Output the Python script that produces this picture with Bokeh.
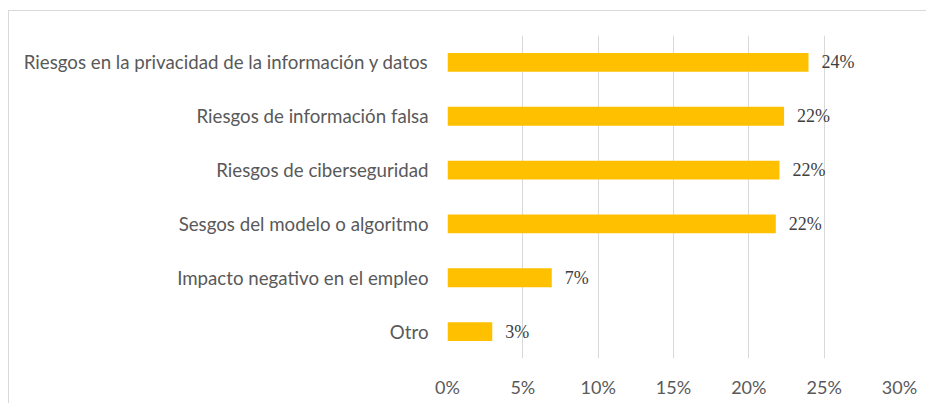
from bokeh.plotting import figure
from bokeh.models import ColumnDataSource, FixedTicker, Range1d, LabelSet
from bokeh.embed import file_html
from bokeh.resources import INLINE

categories = [
    "Riesgos en la privacidad de la información y datos",
    "Riesgos de información falsa",
    "Riesgos de ciberseguridad",
    "Sesgos del modelo o algoritmo",
    "Impacto negativo en el empleo",
    "Otro",
]
values = [23.96, 22.34, 22.03, 21.79, 6.92, 2.97]
value_labels = ["24%", "22%", "22%", "22%", "7%", "3%"]
x_ticks = [0, 5, 10, 15, 20, 25, 30]
x_tick_labels = ["0%", "5%", "10%", "15%", "20%", "25%", "30%"]

FONT = "Lato"
cats_rev = list(reversed(categories))

src = ColumnDataSource(dict(cat=categories, val=values, lab=value_labels))

p = figure(
    width=918, height=393,
    y_range=cats_rev, x_range=Range1d(0, 30),
    output_backend="svg", toolbar_location=None,
    min_border_left=438, min_border_right=28,
    min_border_top=24, min_border_bottom=46,
)
p.styles = {"border-top": "1px solid #D9D9D9", "border-left": "1px solid #D9D9D9",
            "margin-top": "10px", "margin-left": "8px"}
p.outline_line_color = None
p.background_fill_color = "white"
p.border_fill_color = "white"

p.hbar(y="cat", right="val", left=0, height=0.35, source=src,
       fill_color="#FFC000", line_color=None)

labels = LabelSet(x="val", y="cat", text="lab", source=src, x_offset=13,
                  text_baseline="middle", text_font=FONT, text_font_size="18px",
                  text_color="#404040")
p.add_layout(labels)

p.xaxis.ticker = FixedTicker(ticks=x_ticks)
p.xaxis.major_label_overrides = {t: l for t, l in zip(x_ticks, x_tick_labels)}
p.xaxis.axis_line_color = None
p.xaxis.major_tick_line_color = None
p.xaxis.minor_tick_line_color = None
p.xaxis.major_tick_out = 0
p.xaxis.major_label_standoff = 17
p.xaxis.major_label_text_font = FONT
p.xaxis.major_label_text_font_size = "18px"
p.xaxis.major_label_text_color = "#595959"

p.yaxis.axis_line_color = None
p.yaxis.major_tick_line_color = None
p.yaxis.minor_tick_line_color = None
p.yaxis.major_tick_out = 0
p.yaxis.major_label_standoff = 19
p.yaxis.major_label_text_font = FONT
p.yaxis.major_label_text_font_size = "18.7px"
p.yaxis.major_label_text_color = "#595959"

p.xgrid.grid_line_color = "#D9D9D9"
p.xgrid.grid_line_width = 1
p.ygrid.grid_line_color = None

open("out.html", "w").write(file_html(p, INLINE))
